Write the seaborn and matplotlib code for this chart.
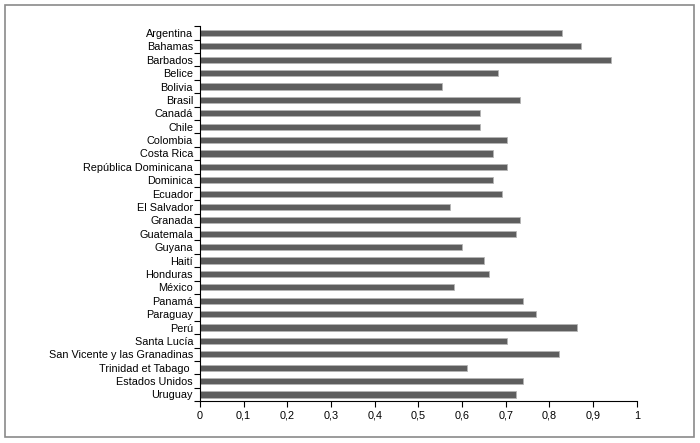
import numpy as np
import pandas as pd
import seaborn as sns
import matplotlib.pyplot as plt
from matplotlib.patches import Rectangle
from matplotlib.ticker import FuncFormatter, FixedLocator

countries = [
    'Argentina', 'Bahamas', 'Barbados', 'Belice', 'Bolivia', 'Brasil', 'Canadá',
    'Chile', 'Colombia', 'Costa Rica', 'República Dominicana', 'Dominica',
    'Ecuador', 'El Salvador', 'Granada', 'Guatemala', 'Guyana', 'Haití',
    'Honduras', 'México', 'Panamá', 'Paraguay', 'Perú', 'Santa Lucía',
    'San Vicente y las Granadinas', 'Trinidad et Tabago ', 'Estados Unidos', 'Uruguay',
]
values = [
    0.830, 0.872, 0.942, 0.682, 0.553, 0.732, 0.642,
    0.642, 0.702, 0.671, 0.702, 0.671,
    0.692, 0.572, 0.732, 0.723, 0.601, 0.651,
    0.662, 0.581, 0.740, 0.769, 0.863, 0.703,
    0.822, 0.611, 0.740, 0.723,
]
xticks = [0, 0.1, 0.2, 0.3, 0.4, 0.5, 0.6, 0.7, 0.8, 0.9, 1]

df = pd.DataFrame({'pais': countries, 'valor': values})

sns.set_theme(style='white')
plt.rcParams['font.family'] = ['Liberation Sans', 'DejaVu Sans']

fig = plt.figure(figsize=(7, 4.43), dpi=100)
ax = fig.add_axes([0.2857, 0.0945, 0.9096 - 0.2857, 0.9406 - 0.0945])

sns.barplot(data=df, x='valor', y='pais', orient='h', color='#5e5e5e',
            saturation=1, width=0.46, edgecolor='#b5b5b5', linewidth=0.6, ax=ax)

ax.set_xlim(0, 1)
ax.set_ylim(len(countries) - 0.5, -0.5)
ax.set_xticks(xticks)
ax.xaxis.set_major_formatter(FuncFormatter(lambda v, p: ('%g' % v).replace('.', ',')))
ax.set_xlabel('')
ax.set_ylabel('')

# ticks between categories on the y axis
ax.yaxis.set_minor_locator(FixedLocator(np.arange(-0.5, len(countries), 1)))
ax.tick_params(axis='y', which='major', length=0, labelsize=7.8, colors='black', pad=5)
ax.tick_params(axis='y', which='minor', left=True, length=4, width=0.8, color='black')
ax.tick_params(axis='x', which='major', bottom=True, length=4, width=0.8, color='black',
               labelsize=7.8, labelcolor='black', pad=3)

sns.despine(ax=ax, top=True, right=True)
for s in ['left', 'bottom']:
    ax.spines[s].set_color('black')
    ax.spines[s].set_linewidth(0.8)

fig.patches.append(Rectangle((5 / 700, 1 - 437 / 443), 689 / 700, 432 / 443,
                             transform=fig.transFigure, fill=False,
                             edgecolor='#8a8a8a', linewidth=1.2))

fig.savefig('out.png', dpi=100)
